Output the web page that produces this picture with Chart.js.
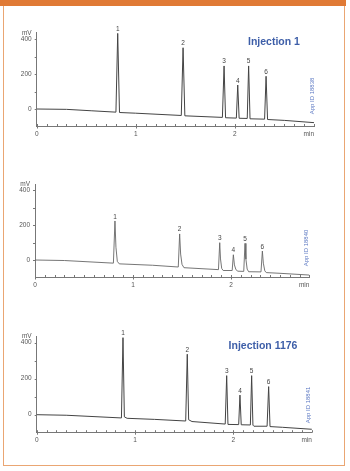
<!DOCTYPE html>
<html>
<head>
<meta charset="utf-8">
<script src="https://cdn.jsdelivr.net/npm/chart.js@4"></script>
<style>
body { margin: 0; width: 350px; height: 471px; position: relative; background: #fff; overflow: hidden; font-family: "Liberation Sans", Arial, sans-serif; }
.bar { position: absolute; left: 0; top: 0; width: 346px; height: 6px; background: #e07a35; }
.frame { position: absolute; left: 3px; top: 6px; width: 340px; height: 459px; border: 1px solid #eaa673; border-top: none; }
canvas { position: absolute; left: 0; }
.title { position: absolute; color: #3d5ea8; font-weight: bold; font-size: 10.5px; transform: translate(-50%, -50%); white-space: nowrap; }
.appid { position: absolute; color: #5a77c2; font-size: 6px; transform: translate(-50%, -50%) rotate(-90deg); white-space: nowrap; }
</style>
</head>
<body>
<div class="bar"></div>
<div class="frame"></div>
<canvas id="inj1" width="350" height="125" style="top:20px"></canvas>
<canvas id="inj2" width="350" height="125" style="top:170px"></canvas>
<canvas id="inj3" width="350" height="130" style="top:320px"></canvas>
<div class="title" style="left:274px;top:41px">Injection 1</div>
<div class="title" style="left:263px;top:344.5px">Injection 1176</div>
<div class="appid" style="left:311.5px;top:96px">App ID 18838</div>
<div class="appid" style="left:306px;top:248px">App ID 18840</div>
<div class="appid" style="left:308px;top:405px">App ID 18841</div>
<script>
// retention time (min) / detector signal (mV)
const inj1Time   = [0, 0.3, 0.55, 0.80, 0.818, 0.836, 1.0, 1.46, 1.478, 1.496, 1.875, 1.892, 1.907, 2.016, 2.03, 2.044, 2.126, 2.14, 2.154, 2.301, 2.316, 2.331, 2.5, 2.8]
const inj1Signal = [0, -2, -10, -18, 432, -20, -24, -37, 350, -39, -48, 246, -50, -52, 137, -53, -54, 246, -56, -58, 187, -60, -65, -78]

const inj2Time   = [0, 0.3, 0.80, 0.816, 0.826, 0.84, 0.86, 1.2, 1.462, 1.476, 1.486, 1.50, 1.52, 1.872, 1.885, 1.893, 1.905, 1.92, 2.012, 2.024, 2.035, 2.05, 2.07, 2.13, 2.143, 2.152, 2.165, 2.18, 2.306, 2.32, 2.33, 2.345, 2.36, 2.5, 2.8]
const inj2Signal = [0, -3, -18, 223, 73, -8, -22, -30, -40, 149, 34, -25, -44, -55, 99, 6, -48, -60, -60, 30, -28, -55, -64, -65, 95, 5, -52, -67, -68, 51, -18, -62, -72, -76, -86]

const inj3Time   = [0, 0.3, 0.862, 0.878, 0.892, 0.92, 1.2, 1.516, 1.532, 1.546, 1.58, 1.918, 1.933, 1.946, 2.055, 2.068, 2.081, 2.174, 2.187, 2.2, 2.21, 2.344, 2.36, 2.374, 2.5, 2.8]
const inj3Signal = [0, -3, -18, 428, -12, -20, -26, -35, 336, -28, -38, -52, 217, -54, -55, 109, -56, -57, 217, -58, -64, -64, 156, -66, -70, -81]

// peak apexes for the numbered labels
const peakNames = ['1', '2', '3', '4', '5', '6']
const inj1PeakTime = [0.818, 1.478, 1.892, 2.03, 2.14, 2.316]
const inj1PeakHeight = [432, 350, 246, 137, 246, 187]
const inj2PeakTime = [0.816, 1.476, 1.885, 2.024, 2.143, 2.32]
const inj2PeakHeight = [223, 149, 99, 30, 95, 51]
const inj3PeakTime = [0.878, 1.532, 1.933, 2.068, 2.187, 2.36]
const inj3PeakHeight = [428, 336, 217, 109, 217, 156]

const yTickMarks = [0, 100, 200, 300, 400]
const yTickLabels = [0, 200, 400]
const xTickLabels = [0, 1, 2]

const axisColor = "#777"
const labelColor = "#555"
const tickFont = { family: '"Liberation Sans", Arial, sans-serif', size: 6.5 }

// peak numbers, unit labels and the small tick marks
const chromText = {
    id: 'chromText',
    afterDraw(chart, args, opts) {
        const { ctx, chartArea, scales: { x, y } } = chart
        ctx.save()
        ctx.strokeStyle = axisColor
        ctx.lineWidth = 1
        ctx.beginPath()
        x.ticks.forEach(t => {
            const px = Math.round(x.getPixelForValue(t.value)) + 0.5
            const major = t.label !== ''
            ctx.moveTo(px, chartArea.bottom - 2.5)
            ctx.lineTo(px, chartArea.bottom + (major ? 2 : 0))
        })
        y.ticks.forEach(t => {
            const py = Math.round(y.getPixelForValue(t.value)) + 0.5
            ctx.moveTo(chartArea.left - 2, py)
            ctx.lineTo(chartArea.left, py)
        })
        ctx.stroke()

        ctx.font = '6.5px "Liberation Sans", Arial, sans-serif'
        ctx.fillStyle = '#444'
        ctx.textAlign = 'center'
        ctx.textBaseline = 'bottom'
        opts.times.forEach((t, i) => {
            ctx.fillText(peakNames[i], x.getPixelForValue(t), y.getPixelForValue(opts.heights[i]) - 1)
        })
        ctx.fillStyle = labelColor
        ctx.textAlign = 'right'
        ctx.textBaseline = 'middle'
        ctx.fillText('mV', chartArea.left - 5, y.getPixelForValue(400) - 6)
        ctx.fillText('min', chartArea.right, chartArea.bottom + 7.5)
        ctx.restore()
    }
}

function makeChart(id, time, signal, peakTime, peakHeight, box) {
    return new Chart(document.getElementById(id), {
        type: 'line',
        data: {
            datasets: [{
                data: time.map((t, i) => ({ x: t, y: signal[i] })),
                borderColor: box.color,
                borderWidth: box.width,
                pointRadius: 0,
                tension: 0,
                fill: false
            }]
        },
        options: {
            responsive: false,
            animation: false,
            events: [],
            layout: { autoPadding: false, padding: { left: 0, right: box.right, top: box.top, bottom: box.bottom } },
            plugins: {
                legend: { display: false },
                tooltip: { enabled: false },
                chromText: { times: peakTime, heights: peakHeight }
            },
            scales: {
                x: {
                    type: 'linear',
                    min: 0,
                    max: 2.8,
                    afterFit: s => { s.height = 14 },
                    grid: { display: false, drawTicks: false, tickLength: 0 },
                    border: { display: true, color: axisColor, width: 1 },
                    ticks: {
                        stepSize: 0.1,
                        autoSkip: false,
                        maxRotation: 0,
                        padding: 4,
                        font: tickFont,
                        color: labelColor,
                        callback: v => {
                            const r = Math.round(v)
                            return Math.abs(v - r) < 1e-6 && xTickLabels.includes(r) ? String(r) : ''
                        }
                    }
                },
                y: {
                    type: 'linear',
                    min: -100,
                    max: box.ymax,
                    afterFit: s => { s.width = box.left },
                    afterBuildTicks: s => { s.ticks = yTickMarks.map(v => ({ value: v })) },
                    grid: { display: false, drawTicks: false, tickLength: 0 },
                    border: { display: true, color: axisColor, width: 1 },
                    ticks: {
                        padding: 5,
                        font: tickFont,
                        color: labelColor,
                        callback: v => yTickLabels.includes(v) ? String(v) : ''
                    }
                }
            }
        },
        plugins: [chromText]
    })
}

const chart1 = makeChart('inj1', inj1Time, inj1Signal, inj1PeakTime, inj1PeakHeight,
    { left: 36.7, right: 36, top: 12, bottom: 4.5, ymax: 440, color: '#444', width: 1 })
const chart2 = makeChart('inj2', inj2Time, inj2Signal, inj2PeakTime, inj2PeakHeight,
    { left: 35, right: 40.6, top: 14.75, bottom: 3.5, ymax: 430, color: '#666', width: 0.9 })
const chart3 = makeChart('inj3', inj3Time, inj3Signal, inj3PeakTime, inj3PeakHeight,
    { left: 36.7, right: 38.1, top: 16.4, bottom: 3.3, ymax: 435, color: '#444', width: 1 })
</script>
</body>
</html>
